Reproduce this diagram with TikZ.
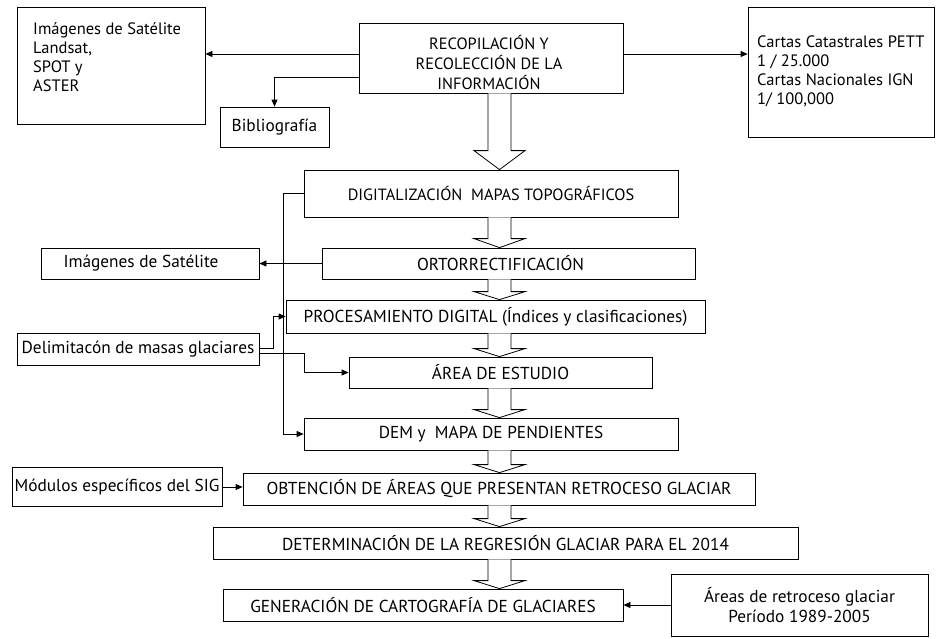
\documentclass[tikz,border=0pt]{standalone}
\usepackage{fontspec}
\setmainfont{PT Sans}
\usetikzlibrary{arrows.meta,calc}
\tikzset{
  box/.style={draw, line width=0.8pt, inner sep=0pt, align=center, font=\fontsize{17.3}{20}\selectfont},
  bigbox/.style={box, font=\fontsize{16.3}{20}\selectfont},
  txt/.style={inner sep=0pt, align=left, anchor=north west, font=\fontsize{16.5}{19}\selectfont},
  arr/.style={line width=0.8pt, -{Triangle[length=7pt,width=6pt]}},
  ln/.style={line width=0.8pt},
}
\newcommand\blkarrow[3]{%
  \draw[ln, fill=white] let \p1=(#1.south), \p2=(#2.north) in
    (488pt,\y1) -- (488pt,\y2+#3pt) -- (474pt,\y2+#3pt) -- (499.5pt,\y2)
    -- (525pt,\y2+#3pt) -- (511pt,\y2+#3pt) -- (511pt,\y1);}
\begin{document}
\begin{tikzpicture}[x=1pt,y=-1pt]
\useasboundingbox (0,0) rectangle (936,638);
% top row
\node[box, minimum width=188, minimum height=117] (sat) at (111,65.5) {};
\node[txt] (satT) at (33,22) {Imágenes de Satélite\\Landsat,\\SPOT y\\ASTER};
\node[box, minimum width=264, minimum height=70] (recop) at (491,58) {};
\node[inner sep=0pt, align=center, font=\fontsize{16.3}{20}\selectfont] (recopT) at (489,63) {RECOPILACIÓN Y\\RECOLECCIÓN DE LA\\INFORMACIÓN};
\node[box, minimum width=186, minimum height=130] (cartas) at (841,72) {};
\node[txt] (cartasT) at (757,36) {Cartas Catastrales PETT\\1 / 25.000\\Cartas Nacionales IGN\\1/ 100,000};
\node[box, minimum width=109, minimum height=40] (biblio) at (274.5,127) {Bibliografía};
% main column
\node[bigbox, minimum width=374, minimum height=47] (dig) at (491,193.5) {DIGITALIZACIÓN \ MAPAS TOPOGRÁFICOS};
\node[box, minimum width=373, minimum height=31] (orto) at (508.5,263.5) {\hspace*{-16pt}ORTORRECTIFICACIÓN};
\node[box, minimum width=218, minimum height=31] (isat) at (150,263.5) {\hspace*{-18pt}Imágenes de Satélite};
\node[box, minimum width=419, minimum height=33] (proc) at (495.5,316.5) {PROCESAMIENTO DIGITAL (Índices y clasificaciones)};
\node[box, minimum width=242, minimum height=32] (delim) at (138,349) {Delimitacón de masas glaciares};
\node[box, minimum width=303, minimum height=31] (area) at (500.5,372.5) {ÁREA DE ESTUDIO};
\node[box, minimum width=374, minimum height=32] (dem) at (491,434) {DEM y \ MAPA DE PENDIENTES};
\node[box, minimum width=210, minimum height=39] (mod) at (117,486.5) {Módulos específicos del SIG};
\node[box, minimum width=512, minimum height=32] (obt) at (499,489) {OBTENCIÓN DE ÁREAS QUE PRESENTAN RETROCESO GLACIAR};
\node[box, minimum width=585, minimum height=32] (det) at (505.5,543) {DETERMINACIÓN DE LA REGRESIÓN GLACIAR PARA EL 2014};
\node[box, minimum width=400, minimum height=32] (gen) at (423,605) {GENERACIÓN DE CARTOGRAFÍA DE GLACIARES};
\node[box, minimum width=257, minimum height=62] (areas) at (799.5,605) {Áreas de retroceso glaciar\\Período 1989-2005};
% block arrows
\blkarrow{recop}{dig}{19}
\blkarrow{dig}{orto}{9}
\blkarrow{orto}{proc}{8}
\blkarrow{proc}{area}{8}
\blkarrow{area}{dem}{8}
\blkarrow{dem}{obt}{8}
\blkarrow{obt}{det}{8}
\blkarrow{det}{gen}{8}
% connectors
\draw[arr] (recop.west |- 0,54) -- (sat.east |- 0,54);
\draw[arr] (recop.west |- 0,77) -| (biblio.north);
\draw[arr] (recop.east |- 0,54) -- (cartas.west |- 0,54);
\draw[arr] (dig.west) -- (283,0 |- dig.west) |- (dem.west);
\draw[arr] (orto.west) -- (isat.east);
\draw[arr] (delim.east |- 0,348) -| (273,0 |- proc.west) -- (proc.west);
\draw[arr] (delim.east |- 0,353) -| (304,0 |- area.west) -- (area.west);
\draw[arr] (mod.east |- 0,487) -- (obt.west |- 0,487);
\draw[arr] (areas.west) -- (gen.east);
\end{tikzpicture}
\end{document}
